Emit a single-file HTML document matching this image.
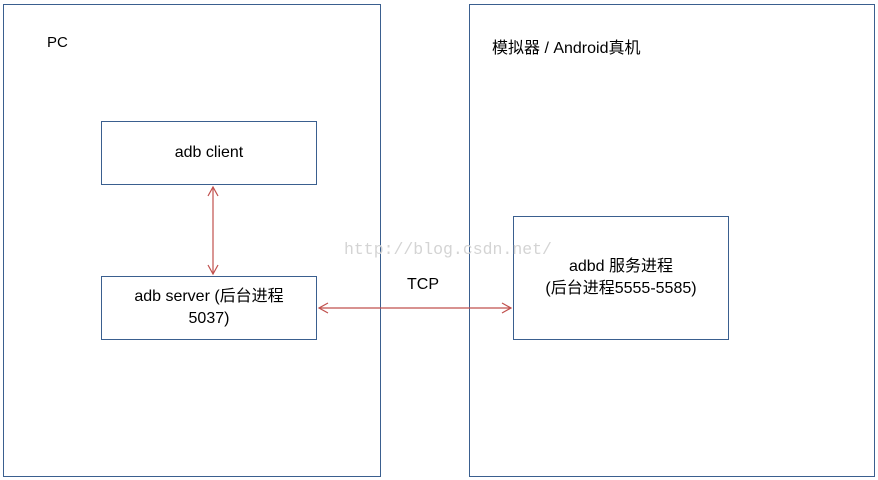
<!DOCTYPE html>
<html><head><style>
body{margin:0;width:878px;height:480px;background:#fff;position:relative;overflow:hidden;font-family:"Liberation Sans","Noto Sans CJK SC",sans-serif;font-size:16px;color:#000}
.b{position:absolute;border:1px solid #3a5f8f;box-sizing:border-box}
.t{position:absolute;white-space:nowrap}
.c{display:flex;align-items:center;justify-content:center;text-align:center;line-height:22px}
</style></head><body>
<div class="b" style="left:3px;top:4px;width:378px;height:473px"></div>
<div class="b" style="left:469px;top:4px;width:406px;height:473px"></div>
<div class="t" style="left:47px;top:34px;font-size:15px">PC</div>
<div class="t" style="left:492px;top:34px">模拟器 / Android真机</div>
<div class="b c" style="left:101px;top:121px;width:216px;height:64px">adb client</div>
<div class="b c" style="left:101px;top:276px;width:216px;height:64px">adb server (后台进程<br>5037)</div>
<div class="b c" style="left:513px;top:216px;width:216px;height:124px">adbd 服务进程<br>(后台进程5555-5585)</div>
<div class="t" style="left:407px;top:276px">TCP</div>
<div class="t" style="left:344px;top:240px;color:#d4d4d4;font-family:'Liberation Mono',monospace;font-size:16.5px">http://blog.csdn.net/</div>
<svg style="position:absolute;left:0;top:0" width="878" height="480">
<g stroke="#c0504d" stroke-width="1.2" fill="none">
<line x1="213" y1="187" x2="213" y2="274"/>
<polyline points="208,196 213,187 218,196"/>
<polyline points="208,265 213,274 218,265"/>
<line x1="319" y1="308" x2="511" y2="308"/>
<polyline points="328,303 319,308 328,313"/>
<polyline points="502,303 511,308 502,313"/>
</g></svg>
</body></html>
